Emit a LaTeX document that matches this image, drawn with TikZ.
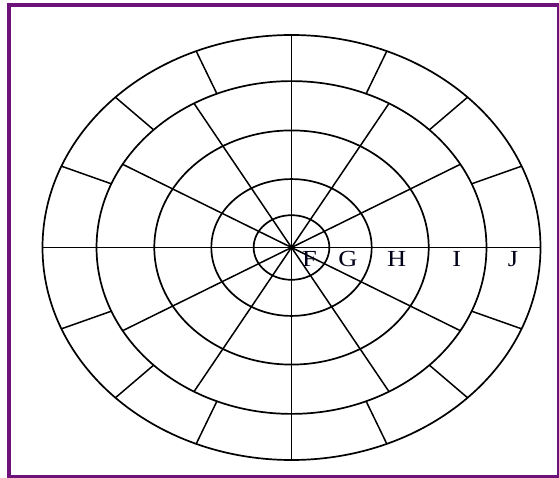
\documentclass[tikz,border=0pt]{standalone}
\usepackage{fontspec}
\setmainfont{Liberation Serif}
\definecolor{framepurple}{RGB}{108,18,120}
\begin{document}
\begin{tikzpicture}[x=1pt,y=-1pt,
  ring/.style={line width=1.7pt},
  spoke/.style={line width=1.5pt},
  lbl/.style={font=\fontsize{23}{23}\selectfont, xscale=1.15, anchor=base, inner sep=0pt, text=black!90!blue}]
\useasboundingbox (0,0) rectangle (559,478);
\fill[white] (0,0) rectangle (559,478);
\draw[framepurple, line width=4pt] (9.3,4.8) rectangle (558.5,477.3);
\begin{scope}[shift={(291.5,247.5)}, x=249pt, y=212.5pt]
  \foreach \r in {1,0.783,0.551,0.322,0.152}
    \draw[ring] (0,0) circle (\r);
  \coordinate (W) at (180:1);
  \coordinate (E) at (0:1);
  \coordinate (N) at (90:1);
  \coordinate (S) at (270:1);
  \draw[spoke] (W) -- (E);
  \draw[spoke] (N) -- (S);
  \foreach \a in {30,60,120,150,210,240,300,330}
    \draw[spoke] (0,0) -- (\a:0.783);
  \foreach \a in {22.5,45,67.5,112.5,135,157.5,202.5,225,247.5,292.5,315,337.5}
    \draw[spoke] (\a:0.783) -- (\a:1);
  \fill (0,0) circle (2pt);
\end{scope}
\node[lbl] (F) at (309.5,266.5) {F};
\node[lbl] (G) at (348,266.5) {G};
\node[lbl] (H) at (396.7,266.5) {H};
\node[lbl] (I) at (456.7,266.5) {I};
\node[lbl] (J) at (513,266.5) {J};
\end{tikzpicture}
\end{document}
